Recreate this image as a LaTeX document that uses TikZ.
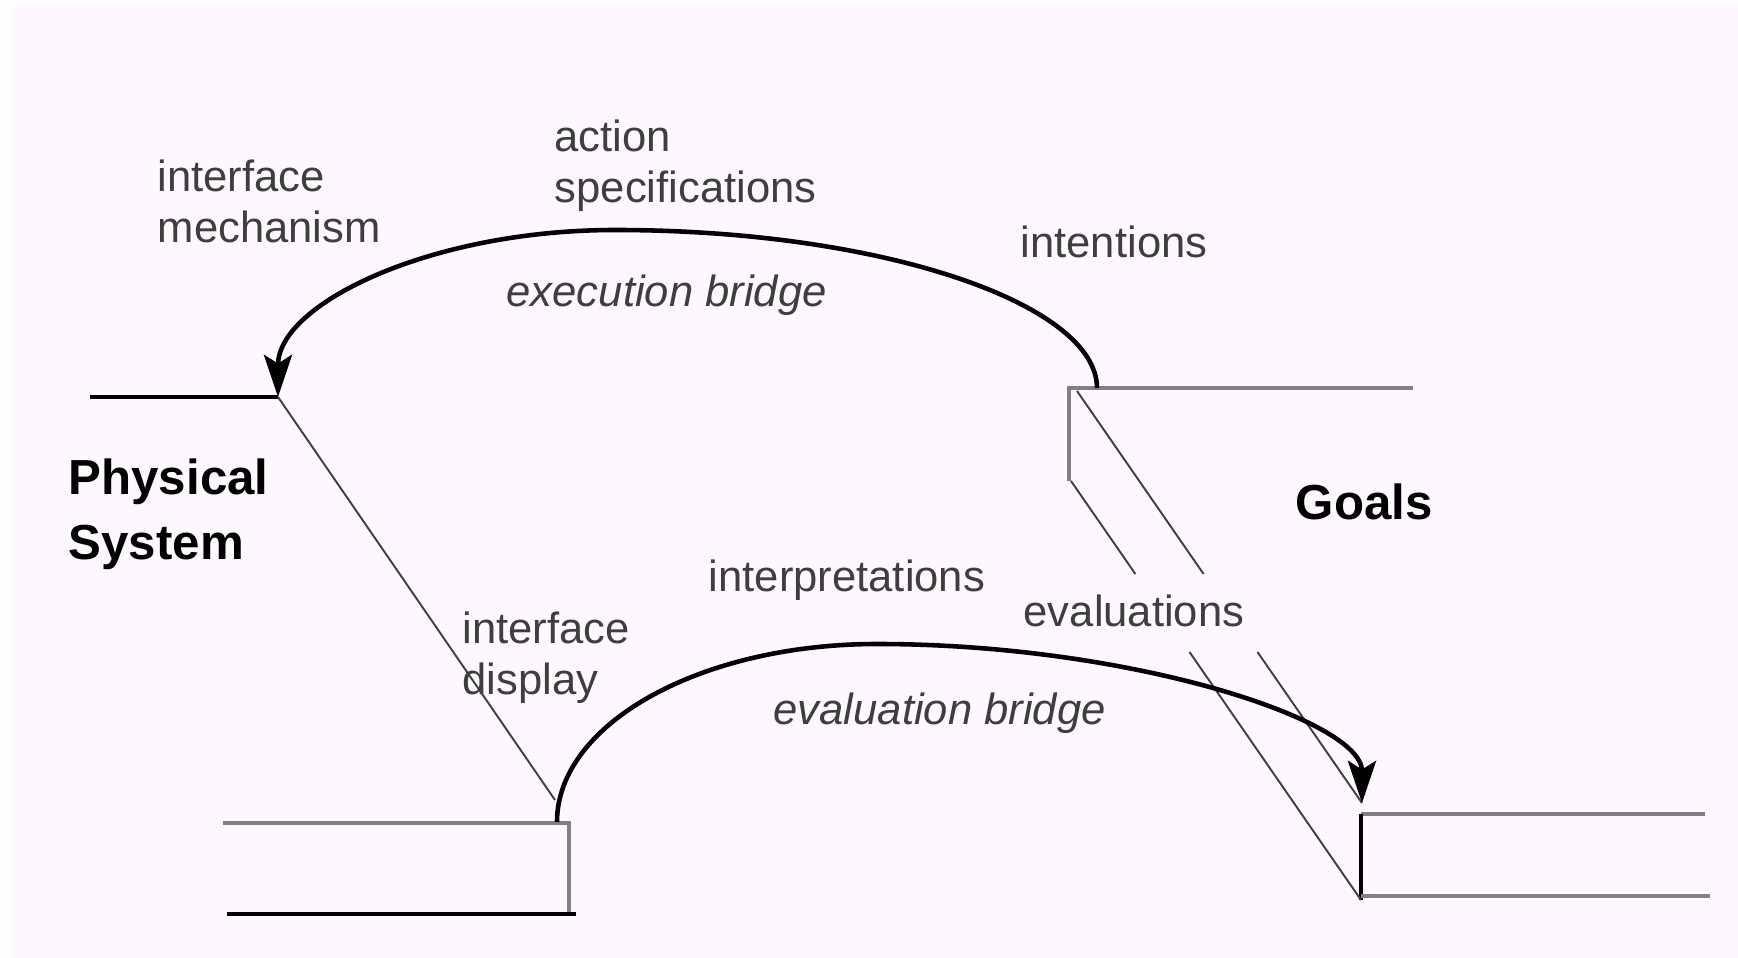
\documentclass[tikz,border=0pt]{standalone}
\usepackage{fontspec}
\setmainfont{Liberation Sans}
\usetikzlibrary{arrows.meta}
\definecolor{paper}{RGB}{253,248,253}
\definecolor{ink}{RGB}{62,62,62}
\definecolor{rule}{RGB}{128,128,128}

\begin{document}
\begin{tikzpicture}[x=0.01cm,y=-0.01cm,
  lbl/.style={anchor=base west,inner sep=0pt,align=left,text=ink,
    font=\fontsize{12.4}{14.7}\selectfont},
  bridgelbl/.style={lbl,font=\fontsize{12.4}{14.7}\selectfont\itshape},
  heading/.style={anchor=base west,inner sep=0pt,align=left,text=black,
    font=\fontsize{14}{18.5}\selectfont\bfseries},
  ground/.style={draw=black,line width=1.15pt},
  edge/.style={draw=rule,line width=1pt},
  sightline/.style={draw=black!75,line width=0.55pt},
  bridgearc/.style={draw=black,line width=1.3pt,
    -{Stealth[length=12pt,width=8pt,inset=2.5pt]}},
]
\useasboundingbox (0,0) rectangle (1738,958);
\fill[white] (0,0) rectangle (1738,958);
\fill[paper] (12,6) rectangle (1738,958);

% ---- key points -------------------------------------------------
% physical system side
\coordinate (psL)    at (90,397);
\coordinate (psTip)  at (278,397);
\coordinate (dsL)    at (223,823);
\coordinate (dsC)    at (569,823);
\coordinate (dsF)    at (569,914);
\coordinate (dsBL)   at (227,914);
\coordinate (dsBR)   at (576,914);
\coordinate (dispEnd) at (555,800);
% goals side
\coordinate (guC)    at (1069,388);
\coordinate (guR)    at (1413,388);
\coordinate (guF)    at (1069,481);
\coordinate (glC)    at (1361,814);
\coordinate (glR)    at (1705,814);
\coordinate (glF)    at (1361,900);
\coordinate (glBL)   at (1361,896);
\coordinate (glBR)   at (1710,896);
% bridges
\coordinate (exStart) at (1097,388);
\coordinate (exTop)   at (615,230);
\coordinate (evStart) at (557,822);
\coordinate (evTop)   at (877,644);
\coordinate (evTip)   at (1362,803);
% evaluation sight lines (broken around their label)
\coordinate (eA1) at (1071,481);
\coordinate (eA2) at (1135.4,574);
\coordinate (eA3) at (1189.5,652);
\coordinate (eB1) at (1077,391);
\coordinate (eB2) at (1203.6,574);
\coordinate (eB3) at (1257.5,652);

% ---- steps ------------------------------------------------------
\draw[ground] (psL) -- (psTip);
\draw[edge] (dsL) -- (dsC) -- (dsF);
\draw[ground] (dsBL) -- (dsBR);

\draw[edge] (guR) -- (guC) -- (guF);
\draw[edge] (glR) -- (glC);
\draw[ground] (glC) -- (glF);
\draw[edge] (glBL) -- (glBR);

% ---- sight lines ------------------------------------------------
\draw[sightline] (psTip) -- (dispEnd);
\draw[sightline] (eA1) -- (eA2);
\draw[sightline] (eA3) -- (glF);
\draw[sightline] (eB1) -- (eB2);
\draw[sightline] (eB3) -- (evTip);

% ---- bridges ----------------------------------------------------
\draw[bridgearc] (exStart) .. controls (1097,305) and (885,230) .. (exTop)
                           .. controls (430,230) and (278,304) .. (psTip);
\draw[bridgearc] (evStart) .. controls (557,724) and (700,644) .. (evTop)
                           .. controls (1130,644) and (1362,720) .. (evTip);

% ---- labels (multi-line nodes sit on the baseline of their last line) --
\node[lbl] (mech) at (157,243) {interface\\mechanism};
\node[lbl] (spec) at (554,203) {action\\specifications};
\node[lbl] (intn) at (1020,258) {intentions};
\node[bridgelbl] (exec) at (506,307) {execution bridge};
\node[heading] (phys) at (68,560) {Physical\\System};
\node[heading] (goals) at (1295,520) {Goals};
\node[lbl] (interp) at (708,592) {interpretations};
\node[lbl] (evals) at (1023,627) {evaluations};
\node[lbl] (disp) at (462,695) {interface\\display};
\node[bridgelbl] (evalb) at (773,725) {evaluation bridge};
\end{tikzpicture}
\end{document}
